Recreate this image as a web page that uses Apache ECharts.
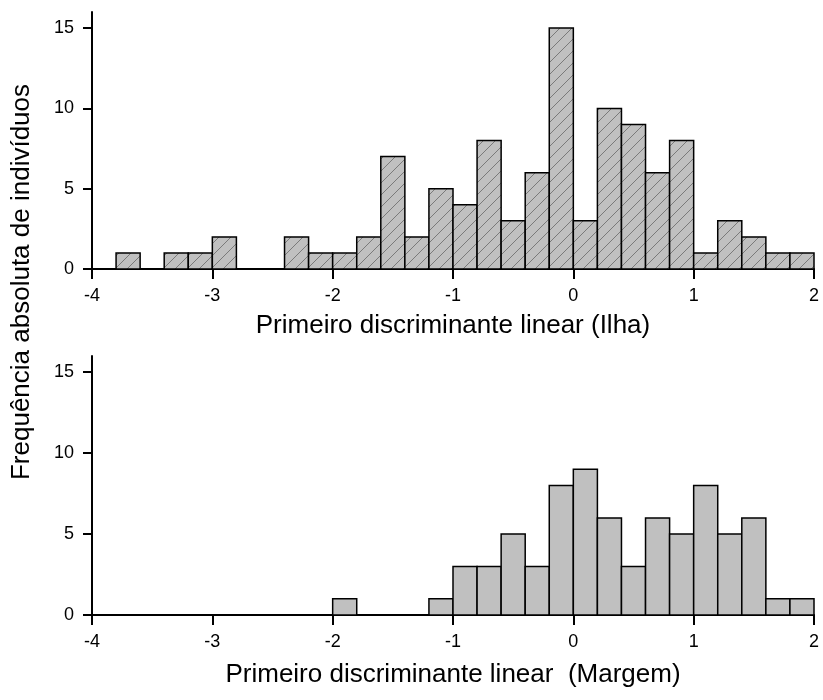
<!DOCTYPE html>
<html>
<head>
<meta charset="utf-8">
<title>Primeiro discriminante linear</title>
<script src="https://cdn.jsdelivr.net/npm/echarts@6/dist/echarts.min.js"></script>
<style>
  html, body { margin: 0; padding: 0; background: #fff; }
  #chart { width: 823px; height: 700px; }
</style>
</head>
<body>
<div id="chart"></div>
<script>
// Histogram bins: left edge of each bin (width 0.2)
const binStarts = [-4.0, -3.8, -3.6, -3.4, -3.2, -3.0, -2.8, -2.6, -2.4, -2.2,
                   -2.0, -1.8, -1.6, -1.4, -1.2, -1.0, -0.8, -0.6, -0.4, -0.2,
                    0.0,  0.2,  0.4,  0.6,  0.8,  1.0,  1.2,  1.4,  1.6,  1.8];
const binWidth = 0.2;

// Absolute frequency per bin
const ilhaCounts   = [0, 1, 0, 1, 1, 2, 0, 0, 2, 1,
                      1, 2, 7, 2, 5, 4, 8, 3, 6, 15,
                      3, 10, 9, 6, 8, 1, 3, 2, 1, 1];
const margemCounts = [0, 0, 0, 0, 0, 0, 0, 0, 0, 0,
                      1, 0, 0, 0, 1, 3, 3, 5, 3, 8,
                      9, 6, 3, 6, 5, 8, 5, 6, 1, 1];

const yTicks = [0, 5, 10, 15];

const titleIlha   = 'Primeiro discriminante linear (Ilha)';
const titleMargem = 'Primeiro discriminante linear  (Margem)';
const titleY      = 'Frequência absoluta de indivíduos';

const FONT = '"Liberation Sans", Arial, Helvetica, sans-serif';
const TICK_FONT = 18;

// Diagonal hatch tile for the upper histogram
function makeHatch() {
  const s = 12;
  const c = document.createElement('canvas');
  c.width = s; c.height = s;
  const g = c.getContext('2d');
  g.fillStyle = '#c0c0c0';
  g.fillRect(0, 0, s, s);
  g.strokeStyle = '#7a7a7a';
  g.lineWidth = 1;
  g.beginPath();
  g.moveTo(0, s); g.lineTo(s, 0);
  g.moveTo(-1, 1); g.lineTo(1, -1);
  g.moveTo(s - 1, s + 1); g.lineTo(s + 1, s - 1);
  g.stroke();
  return c;
}
const hatch = makeHatch();

function toBins(counts) {
  const out = [];
  for (let i = 0; i < binStarts.length; i++) {
    if (counts[i] > 0) out.push([binStarts[i], binStarts[i] + binWidth, counts[i]]);
  }
  return out;
}

function barRenderer(fill) {
  return function (params, api) {
    const p0 = api.coord([api.value(0), 0]);
    const p1 = api.coord([api.value(1), api.value(2)]);
    return {
      type: 'rect',
      shape: { x: p0[0], y: p1[1], width: p1[0] - p0[0], height: p0[1] - p1[1] },
      style: { fill: fill, stroke: '#000', lineWidth: 1.5 }
    };
  };
}

function xAxisCfg(gridIndex, name, gap) {
  return {
    type: 'value', gridIndex: gridIndex, min: -4, max: 2, interval: 1,
    name: name, nameLocation: 'middle', nameGap: gap,
    nameTextStyle: { fontFamily: FONT, fontSize: 26, color: '#000' },
    axisLine: { show: true, onZero: false, lineStyle: { color: '#000', width: 2 } },
    axisTick: { show: true, inside: false, length: 10, lineStyle: { color: '#000', width: 2 } },
    axisLabel: { fontFamily: FONT, fontSize: TICK_FONT, color: '#000', margin: 18 },
    splitLine: { show: false }
  };
}

function yAxisCfg(gridIndex) {
  return {
    type: 'value', gridIndex: gridIndex, min: 0, max: 16, interval: 5,
    axisLine: { show: true, onZero: false, lineStyle: { color: '#000', width: 2 } },
    axisTick: { show: true, inside: false, length: 9, lineStyle: { color: '#000', width: 2 },
                customValues: yTicks },
    axisLabel: { fontFamily: FONT, fontSize: TICK_FONT, color: '#000', margin: 18,
                 formatter: function (v) { return yTicks.indexOf(v) >= 0 ? String(v) : ''; } },
    splitLine: { show: false }
  };
}

const chart = echarts.init(document.getElementById('chart'), null, { renderer: 'canvas' });
chart.setOption({
  backgroundColor: '#fff',
  animation: false,
  grid: [
    { left: 92, right: 9, top: 12, bottom: 431 },
    { left: 92, right: 9, top: 356, bottom: 85 }
  ],
  xAxis: [xAxisCfg(0, titleIlha, 44), xAxisCfg(1, titleMargem, 47)],
  yAxis: [yAxisCfg(0), yAxisCfg(1)],
  graphic: [{
    type: 'text', x: 22, y: 282, rotation: Math.PI / 2,
    style: { text: titleY, fontFamily: FONT, fontSize: 26, fill: '#000',
             textAlign: 'center', textVerticalAlign: 'middle' }
  }],
  series: [
    { type: 'custom', xAxisIndex: 0, yAxisIndex: 0, renderItem: barRenderer({ image: hatch, repeat: 'repeat' }),
      data: toBins(ilhaCounts), encode: { x: [0, 1], y: 2 } },
    { type: 'custom', xAxisIndex: 1, yAxisIndex: 1, renderItem: barRenderer('#c0c0c0'),
      data: toBins(margemCounts), encode: { x: [0, 1], y: 2 } }
  ]
});
</script>
</body>
</html>
